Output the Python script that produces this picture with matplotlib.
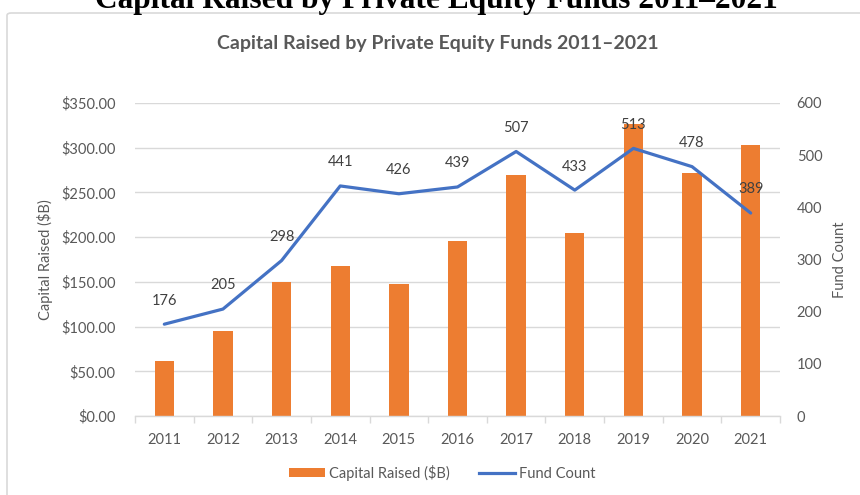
import matplotlib
matplotlib.use("Agg")
import matplotlib.pyplot as plt
from matplotlib.patches import FancyBboxPatch, Patch
from matplotlib.lines import Line2D
from matplotlib.ticker import FixedLocator, FuncFormatter

# data
years = ["2011", "2012", "2013", "2014", "2015", "2016",
         "2017", "2018", "2019", "2020", "2021"]
capital_raised = [62, 95, 150, 168, 148, 196, 270, 205, 326, 272, 303]
fund_count = [176, 205, 298, 441, 426, 439, 507, 433, 513, 478, 389]

ORANGE = "#ED7D31"
BLUE = "#4472C4"
GRID = "#D9D9D9"
TEXT = "#595959"

plt.rcParams["font.family"] = ["Lato", "DejaVu Sans"]

fig = plt.figure(figsize=(8.6, 4.95), dpi=100)

# outer chart frame (cut off on the right and bottom)
frame = FancyBboxPatch((7 / 860, -0.05), 1.0, 1 - 13 / 495 + 0.05,
                       boxstyle="round,pad=0,rounding_size=0.005",
                       transform=fig.transFigure, facecolor="none",
                       edgecolor=GRID, linewidth=1.2, zorder=-1)
fig.patches.append(frame)

# document heading cut off at the top
fig.text(436.5 / 860, 1 - 8 / 495, "Capital Raised by Private Equity Funds 2011\u20132021",
         ha="center", va="baseline", fontsize=22.6, fontweight="bold",
         family="Liberation Serif", color="black")

# chart title
fig.text(438 / 860, 1 - 43 / 495, "Capital Raised by Private Equity Funds 2011\u20132021",
         ha="center", va="center", fontsize=14, fontweight="bold", color=TEXT)

ax = fig.add_axes([135 / 860, 79 / 495, 645 / 860, 313 / 495])
x = list(range(len(years)))

ax.bar(x, capital_raised, width=0.33, color=ORANGE, zorder=2)
ax.set_ylim(0, 350)
ax.set_xlim(-0.5, len(years) - 0.5)
ax.yaxis.set_major_locator(FixedLocator([0, 50, 100, 150, 200, 250, 300, 350]))
ax.yaxis.set_major_formatter(FuncFormatter(lambda v, p: f"${v:,.2f}"))
ax.grid(axis="y", color=GRID, linewidth=1, zorder=0)
ax.set_axisbelow(True)
for s in ["top", "left", "right"]:
    ax.spines[s].set_visible(False)
ax.spines["bottom"].set_color(GRID)
ax.spines["bottom"].set_linewidth(1)
ax.set_xticks(x)
ax.set_xticklabels(years)
ax.set_xticks([i - 0.5 for i in range(len(years) + 1)], minor=True)
ax.tick_params(axis="x", which="major", length=0, pad=12, labelsize=10.5, labelcolor=TEXT)
ax.tick_params(axis="x", which="minor", length=5, color=GRID, width=1)
ax.tick_params(axis="y", length=0, pad=14, labelsize=10.5, labelcolor=TEXT)
ax.set_ylabel("Capital Raised ($B)", fontsize=10.5, color=TEXT)
ax.yaxis.set_label_coords(-0.127, 0.5)

ax2 = ax.twinx()
ax2.plot(x, fund_count, color=BLUE, linewidth=2.3, solid_capstyle="round",
         solid_joinstyle="round", zorder=3)
ax2.set_ylim(0, 600)
ax2.yaxis.set_major_locator(FixedLocator([0, 100, 200, 300, 400, 500, 600]))
for s in ["top", "left", "right", "bottom"]:
    ax2.spines[s].set_visible(False)
ax2.tick_params(axis="y", length=0, pad=12, labelsize=10.5, labelcolor=TEXT)
ax2.set_ylabel("Fund Count", fontsize=10.5, color=TEXT)
ax2.yaxis.set_label_coords(1.082, 0.5)

for xi, v in zip(x, fund_count):
    ax2.annotate(str(v), (xi, v), xytext=(0, 17), textcoords="offset points",
                 ha="center", va="center", fontsize=10.5, color="#404040")

handles = [Patch(facecolor=ORANGE, edgecolor="none"),
           Line2D([0], [0], color=BLUE, linewidth=2.3)]
fig.legend(handles, ["Capital Raised ($B)", "Fund Count"],
           loc="center", bbox_to_anchor=(442 / 860, 1 - 473 / 495), ncol=2,
           frameon=False, fontsize=10.5, handlelength=2.5, handleheight=0.6,
           handletextpad=0.25, columnspacing=2.0, labelcolor=TEXT)

fig.savefig("out.png", dpi=100)
